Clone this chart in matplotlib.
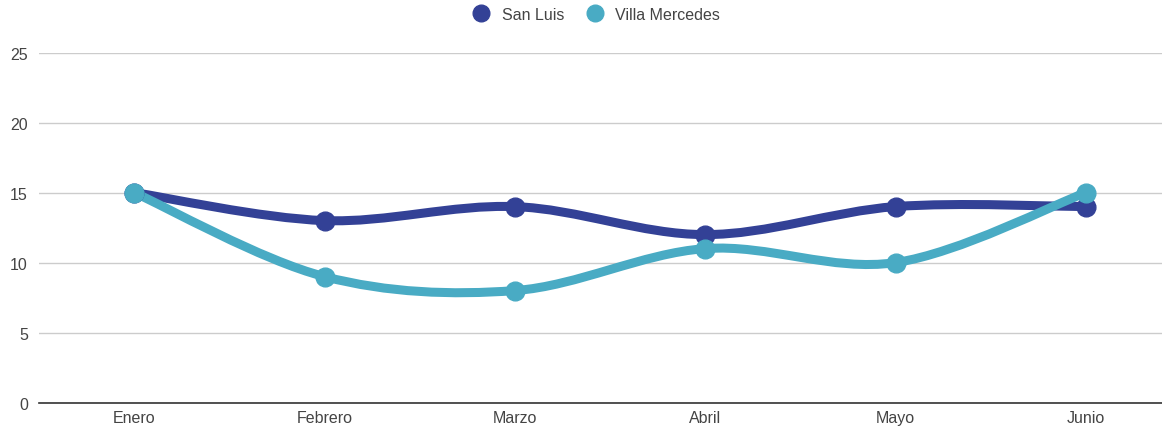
import matplotlib.pyplot as plt
from matplotlib.path import Path
from matplotlib.patches import PathPatch
from matplotlib.lines import Line2D
import numpy as np

plt.rcParams['font.family'] = ['Liberation Sans', 'DejaVu Sans']

meses = ['Enero', 'Febrero', 'Marzo', 'Abril', 'Mayo', 'Junio']
san_luis = [15, 13, 14, 12, 14, 14]
villa_mercedes = [15, 9, 8, 11, 10, 15]
series_names = ['San Luis', 'Villa Mercedes']
colors = ['#334196', '#49abc4']


def smooth_path(xs, ys):
    # Catmull-Rom curve drawn as cubic bezier segments
    pts = np.column_stack([xs, ys]).astype(float)
    n = len(pts)
    verts = [pts[0]]
    codes = [Path.MOVETO]
    for i in range(n - 1):
        p0 = pts[max(i - 1, 0)]
        p1 = pts[i]
        p2 = pts[i + 1]
        p3 = pts[min(i + 2, n - 1)]
        c1 = p1 + (p2 - p0) / 6.0
        c2 = p2 - (p3 - p1) / 6.0
        verts += [c1, c2, p2]
        codes += [Path.CURVE4] * 3
    return Path(verts, codes)


fig = plt.figure(figsize=(11.62, 4.31), dpi=100)
ax = fig.add_axes([39 / 1162, 27.4 / 431, (1162 - 39) / 1162, 350 / 431])

x = np.arange(len(meses))
for vals, name, col in zip([san_luis, villa_mercedes], series_names, colors):
    patch = PathPatch(smooth_path(x, vals), facecolor='none', edgecolor=col,
                      lw=6.5, capstyle='round', joinstyle='round', zorder=3)
    ax.add_patch(patch)
    ax.plot(x, vals, 'o', color=col, markersize=13.5, zorder=4, clip_on=False)

ax.set_xlim(-0.5, 5.4)
ax.set_ylim(0, 25)
ax.set_yticks([0, 5, 10, 15, 20, 25])
ax.set_xticks(x)
ax.set_xticklabels(meses)
ax.grid(axis='y', color='#cccccc', lw=1)
ax.set_axisbelow(True)
for s in ['top', 'right', 'left']:
    ax.spines[s].set_visible(False)
ax.spines['bottom'].set_color('#333333')
ax.spines['bottom'].set_linewidth(1.2)
ax.spines['bottom'].set_zorder(5)
ax.tick_params(axis='both', length=0, labelsize=11.5, labelcolor='#444444')
ax.tick_params(axis='y', pad=8)
ax.tick_params(axis='x', pad=5)

handles = [Line2D([], [], marker='o', ls='none', color=c, markersize=12) for c in colors]
fig.legend(handles, series_names, loc='center', bbox_to_anchor=(0.51, 0.965), ncol=2,
           frameon=False, fontsize=11.5, labelcolor='#444444', handletextpad=0.3,
           columnspacing=0.9)

fig.savefig('out.png', dpi=100)
